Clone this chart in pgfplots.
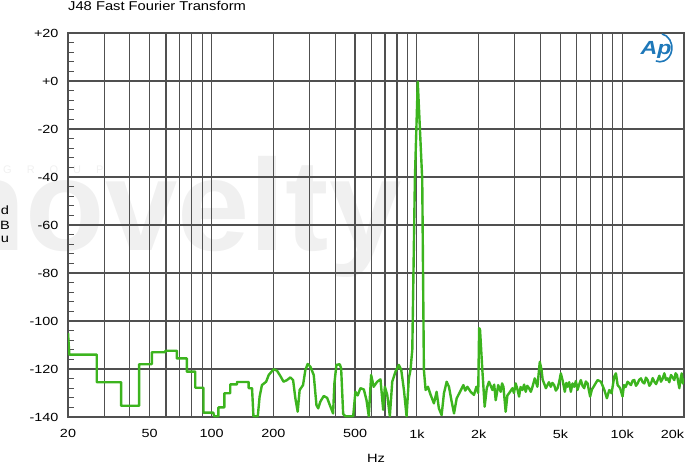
\documentclass[border=0pt]{standalone}
\usepackage{fontspec}
\setmainfont{Liberation Sans}[FakeStretch=1.22]
\newfontfamily\titlefont{Liberation Sans}[FakeStretch=1.15]
\newfontfamily\wmfont{Liberation Sans}
\usepackage{pgfplots}
\pgfplotsset{compat=1.18}
\definecolor{trace}{RGB}{60,180,30}
\definecolor{gridc}{RGB}{80,80,80}
\definecolor{apblue}{RGB}{30,120,185}
\begin{document}
\begin{tikzpicture}[x=1pt,y=1pt]
\useasboundingbox (0,0) rectangle (685,467);
% watermark
\node[anchor=base west, inner sep=0, text=black!6, font=\wmfont\bfseries\fontsize{130}{130}\selectfont] at (-54,217) {novelty};
\node[anchor=base west, inner sep=0, text=black!6, font=\wmfont\fontsize{11}{11}\selectfont] at (3,294) {G\hspace{15pt}R\hspace{15pt}O\hspace{15pt}U\hspace{15pt}P};
\begin{axis}[
  at={(68pt,50pt)}, anchor=south west,
  width=616pt, height=384pt, scale only axis,
  xmode=log, log basis x=10,
  xmin=20, xmax=20000, ymin=-140, ymax=20,
  xtick={20,30,40,50,60,70,80,90,100,200,300,400,500,600,700,800,900,1000,2000,3000,4000,5000,6000,7000,8000,9000,10000,20000},
  xticklabels={20,,,50,,,,,100,200,,,500,,,,,1k,2k,,,5k,,,,,10k,\makebox[0pt][r]{20k}},
  xminorticks=false,
  ytick={-140,-120,-100,-80,-60,-40,-20,0,20},
  yticklabels={-140,-120,-100,-80,-60,-40,-20,+0,+20},
  minor y tick num=4,
  grid=major,
  major grid style={draw=gridc, line width=1.2pt},
  axis line style={draw=gridc, line width=1.2pt},
  major tick length=0pt, minor tick length=6pt,
  tick align=inside, ytick pos=left, xtick pos=bottom,
  minor tick style={draw=gridc, line width=1pt},
  ticklabel style={font=\fontsize{11.8}{13}\selectfont},
  /pgf/number format/assume math mode=true,
  xticklabel style={yshift=-9pt},
  yticklabel style={xshift=-6pt},
  clip=true,
]
\addplot[trace, line width=2.4pt, line join=round] coordinates {
(20,-105) (20.3,-114) (27.6,-114) (27.6,-125.5) (36.3,-125.5) (36.3,-135.3)
(44.4,-135.3) (44.4,-118) (51.2,-118) (51.2,-113) (59.5,-113) (59.5,-112.4)
(67.8,-112.4) (67.8,-115.6) (75.8,-115.6) (75.8,-121.1) (83.3,-121.1) (83.3,-127.8)
(91.4,-127.8) (91.4,-138.2) (102,-138.2) (103,-139.7) (108,-139.7) (108,-136)
(115.4,-136) (115.4,-130.1) (123.3,-130.1) (123.3,-126.4) (133,-126.4) (133,-125.4)
(151.7,-125.4) (151.7,-128) (157.5,-128) (160,-139.7) (168,-139.7) (171.5,-131.5)
(176,-126.7) (184.5,-125.3) (189.9,-122.5) (200.7,-120.1) (208.4,-120.7) (216.3,-122.9)
(224.2,-125.3) (233.2,-124.6) (242,-123.5) (249.6,-124.6) (256,-132.2) (262.8,-137.8)
(268.6,-128.75) (279,-126.7) (286.4,-120.4) (293.9,-117.9) (302.9,-119) (314.6,-122.5)
(324.3,-135) (330.6,-136.4) (338.9,-133.6) (351.8,-131.25) (365.4,-132) (379.4,-135.7)
(390.9,-138.5) (396.6,-126) (405.7,-118.3) (421,-118) (427.7,-119.7) (437.6,-138.75)
(449,-139.7) (489.7,-139.7) (502,-129.5) (515,-131) (531,-128) (551.7,-128.5) (568.6,-133)
(583.3,-139.7) (599,-122.5) (616,-127.4) (641,-125.3) (665,-124.3) (685.5,-137)
(698.5,-127.4) (717.4,-130.8) (738.6,-139.7) (758.8,-125.3) (787,-121.1) (816.7,-118.3)
(839.4,-120.4) (865,-128.75) (891,-139.7) (914,-123.9) (931,-120.4) (950,-112)
(978,-41) (1010,-0.3) (1062,-41) (1082,-120.4)
(1103,-128.75) (1132,-127.4) (1167,-130.8) (1211,-134.3) (1248,-129.5) (1280,-136.4)
(1320,-139.2) (1355,-130.1) (1397,-125.3) (1433,-127.4) (1473,-133) (1517,-138.5)
(1563,-132.2) (1623,-129.5) (1685,-126.7) (1720,-129) (1762,-127.4) (1828,-129.5) (1897,-130.8)
(1950,-127.4) (1990,-130) (2010,-103) (2030,-103.5) (2084,-120.4) (2139,-135.7)
(2190,-128) (2245,-125.3) (2290,-127) (2333,-128.75) (2380,-126.5) (2421,-133) (2490,-126.7) (2560,-129.5)
(2600,-126) (2640,-127.4) (2707,-137.8) (2760,-131) (2812,-130.1) (2920,-128) (2970,-130) (3029,-126)
(3090,-128.5) (3146,-131.5) (3200,-127.5) (3267,-128.75) (3330,-126.5) (3390,-129.5) (3450,-127)
(3519,-128) (3590,-129.5) (3657,-127.4) (3751,-123.9) (3864,-127.4) (3970,-117)
(4047,-120.4) (4100,-124.5) (4165,-126) (4250,-128) (4326,-126.7) (4400,-125.5) (4489,-127.4) (4570,-125.8)
(4664,-126.7) (4750,-129) (4845,-128) (4930,-125.5) (5024,-121.8) (5121,-124.6) (5255,-129.5)
(5340,-125.8) (5420,-127.4) (5520,-125.5) (5622,-129.5) (5730,-126) (5838,-127.4) (5950,-125) (6057,-128.75)
(6170,-126.5) (6289,-124.6) (6410,-127) (6532,-128) (6650,-125.2) (6782,-126) (6983,-131.5) (7120,-128.5)
(7257,-127.4) (7420,-126) (7589,-124.6) (7881,-125.3) (8030,-127) (8185,-128.75) (8425,-132.2)
(8650,-128.75) (8878,-130.1) (9146,-123.2) (9320,-121.8) (9500,-126.7) (9776,-128)
(10040,-131.5) (10200,-126.7) (10400,-127.5) (10620,-125.3) (11030,-126.7) (11250,-124.8) (11450,-124.6) (11670,-127)
(11890,-126) (12100,-124.5) (12340,-123.9) (12580,-125.5) (12820,-126) (13050,-123.6) (13310,-124.6) (13560,-127)
(13810,-126) (14080,-123.8) (14340,-125.3) (14620,-126.3) (14890,-124.6) (15170,-122.8) (15450,-125.3) (15740,-124)
(16040,-121.8) (16340,-124.5) (16650,-123.9) (16960,-125.5) (17280,-122.5) (17610,-123.5) (17940,-124.6)
(18200,-121.8) (18480,-122.5) (18980,-128) (19250,-124) (19500,-121.8) (19750,-126) (20000,-123.9)
};
\end{axis}
% title and axis labels
\node[anchor=base west, inner sep=0, font=\titlefont\fontsize{12.8}{14}\selectfont] at (68,456) {J48 Fast Fourier Transform};
\node[inner sep=0, font=\fontsize{12}{13}\selectfont] at (5,257) {d};
\node[inner sep=0, font=\fontsize{12}{13}\selectfont] at (5,242) {B};
\node[inner sep=0, font=\fontsize{12}{13}\selectfont] at (5,228) {u};
\node[font=\fontsize{12}{13}\selectfont] at (376,9) {Hz};
% AP logo
\node[text=apblue, font=\bfseries\itshape\fontsize{19}{19}\selectfont] at (656,417) {Ap};
\draw[apblue, line width=1.6pt] (662,433) arc[start angle=80, end angle=-110, x radius=12, y radius=14];
\end{tikzpicture}
\end{document}
